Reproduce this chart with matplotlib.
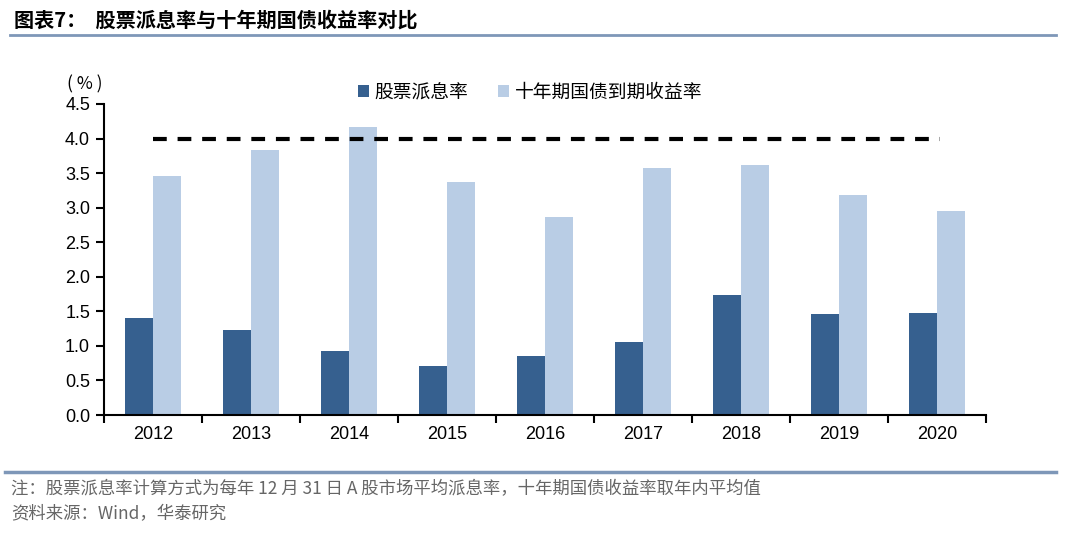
import numpy as np
import matplotlib.pyplot as plt
import matplotlib.lines as mlines

plt.rcParams['font.family'] = ['Liberation Sans', 'Noto Sans CJK SC', 'DejaVu Sans']

years = ['2012', '2013', '2014', '2015', '2016', '2017', '2018', '2019', '2020']
dividend = [1.41, 1.23, 0.93, 0.71, 0.85, 1.05, 1.73, 1.46, 1.48]
bond10y = [3.46, 3.83, 4.16, 3.37, 2.86, 3.58, 3.62, 3.18, 2.95]
ref_level = 4.0

dark = '#36608F'
light = '#B9CDE5'

fig = plt.figure(figsize=(10.8, 5.36), dpi=100)
ax = fig.add_axes([0.0963, 0.2257, 0.8167, 0.5803])

x = np.arange(len(years))
w = 0.285
ax.bar(x - w / 2, dividend, w, color=dark, label='股票派息率')
ax.bar(x + w / 2, bond10y, w, color=light, label='十年期国债到期收益率')
ax.plot([x[0], x[-1] + 0.03], [ref_level, ref_level], color='black', lw=3,
        dashes=(3.3, 2.6))

ax.set_xlim(-0.5, len(years) - 0.5)
ax.set_ylim(0, 4.5)
ax.set_yticks(np.arange(0, 4.51, 0.5))
ax.set_yticklabels([f'{v:.1f}' for v in np.arange(0, 4.51, 0.5)], fontsize=13)
ax.set_xticks(x)
ax.set_xticklabels(years, fontsize=13)
ax.set_xticks(np.arange(-0.5, len(years)), minor=True)
ax.tick_params(axis='x', which='major', length=0, pad=8)
ax.tick_params(axis='x', which='minor', length=6, width=1.5, direction='out')
ax.tick_params(axis='y', length=6, width=1.5, direction='out', pad=4)
for s in ['top', 'right']:
    ax.spines[s].set_visible(False)
for s in ['left', 'bottom']:
    ax.spines[s].set_linewidth(1.5)

ax.legend(loc='upper center', bbox_to_anchor=(0.483, 1.125), ncol=2, frameon=False,
          prop={'family': ['Noto Sans CJK SC'], 'size': 13.5},
          handlelength=0.6, handleheight=0.6, handletextpad=0.3, columnspacing=1.6)

fig.text(0.062, 0.825, '( % )', fontsize=12.5, ha='left', va='bottom',
         family=['Noto Sans CJK SC', 'DejaVu Sans'])

fig.text(0.013, 0.962, '图表7：  股票派息率与十年期国债收益率对比', fontsize=14.5,
         fontweight='bold', ha='left', va='center',
         family=['Noto Sans CJK SC', 'DejaVu Sans'])
fig.add_artist(mlines.Line2D([0.009, 0.978], [0.935, 0.935], color='#7E97B8', lw=2))
fig.add_artist(mlines.Line2D([0.005, 0.978], [0.119, 0.119], color='#7E97B8', lw=2.5))

note_color = '#666666'
fig.text(0.01, 0.088, '注：股票派息率计算方式为每年 12 月 31 日 A 股市场平均派息率，十年期国债收益率取年内平均值',
         fontsize=12.5, color=note_color, ha='left', va='center',
         family=['Noto Sans CJK SC', 'DejaVu Sans'])
fig.text(0.01, 0.04, '资料来源：Wind，华泰研究', fontsize=12.5, color=note_color,
         ha='left', va='center', family=['Noto Sans CJK SC', 'DejaVu Sans'])

fig.savefig('out.png', dpi=100)
